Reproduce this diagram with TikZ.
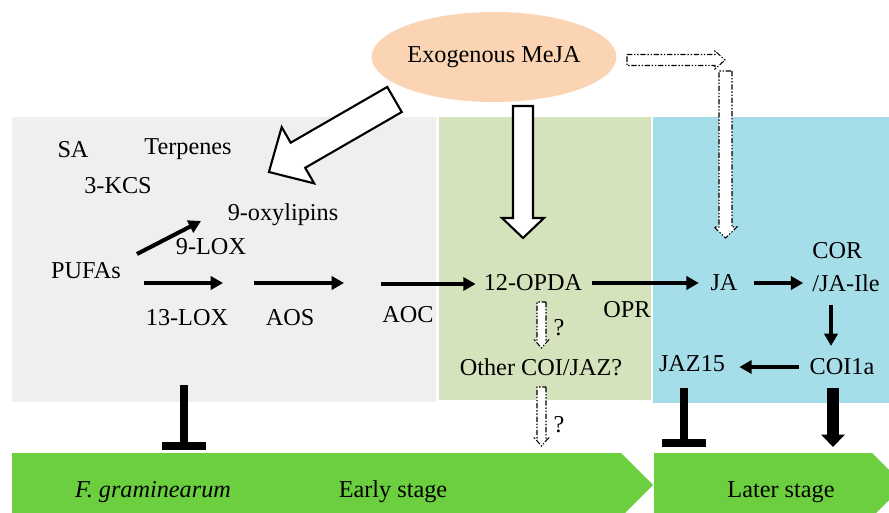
\documentclass[tikz,border=0pt]{standalone}
\usepackage{fontspec}
\setmainfont{Liberation Serif}
\usetikzlibrary{arrows.meta,shapes.geometric}

\definecolor{grayzone}{HTML}{EFEFEF}
\definecolor{greenzone}{HTML}{D5E3BD}
\definecolor{bluezone}{HTML}{A5DDE8}
\definecolor{peach}{HTML}{FBD4B4}
\definecolor{stagegreen}{HTML}{6CCF3F}

\tikzset{
  txt/.style={inner sep=0pt, font=\fontsize{13.8}{19}\selectfont},
  flow/.style={line width=2.3pt, -{Triangle[length=7pt,width=7.5pt]}},
  inhibit/.style={line width=4.5pt, -{Bar[width=25pt]}},
  bigflow/.style={line width=6.8pt, -{Triangle[length=7pt,width=13pt]}},
  hollow/.style={draw, line width=1.2pt, fill=white},
  dashhollow/.style={draw, line width=0.6pt, fill=white,
    dash pattern=on 3pt off 1pt on 0.8pt off 1pt on 0.8pt off 1pt},
  pics/blockarrow/.style n args={5}{code={
    \path[#5] (0,-#2) -- ({#1-#4},-#2) -- ({#1-#4},-#3) -- (#1,0)
      -- ({#1-#4},#3) -- ({#1-#4},#2) -- (0,#2) -- cycle;}}
}

\begin{document}
\begin{tikzpicture}[x=0.02cm, y=-0.02cm]
    \useasboundingbox (0,0) rectangle (889,513);

    % stage areas
    \fill [grayzone] (12,117) rectangle (436,402);
    \fill [greenzone] (439,117) rectangle (651,400);
    \fill [bluezone] (653,117) rectangle (889,403);
    \begin{scope}
        \clip (0,0) rectangle (889,513);
        \fill [stagegreen] (12,453) -- (621,453) -- (653,485) -- (621,517) -- (12,517) -- cycle;
        \fill [stagegreen] (654,453) -- (872,453) -- (904,485) -- (872,517) -- (654,517) -- cycle;
    \end{scope}

    \node [ellipse, fill=peach, minimum width=4.56cm, minimum height=1.8cm, txt] (meja) at (494,57) {Exogenous MeJA};

    % MeJA effects
    \pic [rotate=210] at (394.5,99.5) {blockarrow={145}{14.5}{32.5}{33.5}{hollow}};
    \pic [rotate=-90] at (523,106) {blockarrow={132}{10}{21}{20}{hollow}};
    \pic at (627,60) {blockarrow={98}{5.5}{9}{10}{dashhollow}};
    \pic [rotate=-90] at (725.5,71) {blockarrow={167}{6.5}{11.5}{11}{dashhollow}};

    \node [txt] (sa) at (73,150) {SA};
    \node [txt] (terp) at (188,149) {Terpenes};
    \node [txt] (kcs) at (118,186) {3-KCS};
    \node [txt] (oxy) at (283,215) {9-oxylipins};
    \node [txt] (lox9) at (211,247) {9-LOX};
    \node [txt] (pufa) at (86,271) {PUFAs};
    \node [txt] (lox13) at (187,318) {13-LOX};
    \node [txt] (aos) at (290,318) {AOS};
    \node [txt] (aoc) at (408,315) {AOC};
    \node [txt] (opda) at (533,283) {12-OPDA};
    \node [txt] (opr) at (627,310) {OPR};
    \node [txt] (ja) at (724,283) {JA};
    \node [txt, align=left] (cor) at (846,267) {COR\\/JA-Ile};
    \node [txt] (other) at (541,367) {Other COI/JAZ?};
    \node [txt] (jaz) at (692,364) {JAZ15};
    \node [txt] (coi) at (842,367) {COI1a};
    \node [txt] (q1) at (559,328) {?};
    \node [txt] (q2) at (559,425) {?};
    \node [txt, font=\fontsize{13.8}{19}\selectfont\itshape] (fg) at (153,492) {F. graminearum};
    \node [txt] (early) at (393,492) {Early stage};
    \node [txt] (later) at (781,492) {Later stage};

    % pathway
    \coordinate (p1) at (137,254);
    \coordinate (p2) at (201,221);
    \coordinate (p3) at (144,283);
    \coordinate (p4) at (223,283);
    \coordinate (p5) at (254,283);
    \coordinate (p6) at (344,283);
    \coordinate (p7) at (381,284);
    \coordinate (p8) at (831,305);
    \coordinate (p9) at (831,346);
    \draw [flow] (p1) -- (p2);
    \draw [flow] (p3) -- (p4);
    \draw [flow] (p5) -- (p6);
    \draw [flow, shorten >=4.5pt] (p7) -- (p7 -| opda.west);
    \draw [flow, shorten <=5.5pt, shorten >=6.5pt] (opda.east) -- (ja.west);
    \draw [flow, shorten <=9pt, shorten >=5pt] (ja.east) -- (ja.east -| cor.west);
    \draw [flow] (p8) -- (p9);
    \draw [flow, shorten <=6pt, shorten >=8pt] (coi.west) -- (coi.west -| jaz.east);

    % unknown routes
    \pic [rotate=-90] at (541.5,302) {blockarrow={46}{4.5}{7}{8}{dashhollow}};
    \pic [rotate=-90] at (541.5,387) {blockarrow={59}{4.5}{7}{8}{dashhollow}};

    % effects on the fungus
    \coordinate (i1) at (184,385);
    \coordinate (i2) at (184,450);
    \coordinate (i3) at (684,388);
    \coordinate (i4) at (684,447);
    \coordinate (i5) at (833,388);
    \coordinate (i6) at (833,447);
    \draw [inhibit] (i1) -- (i2);
    \draw [inhibit] (i3) -- (i4);
    \draw [bigflow] (i5) -- (i6);
\end{tikzpicture}
\end{document}
